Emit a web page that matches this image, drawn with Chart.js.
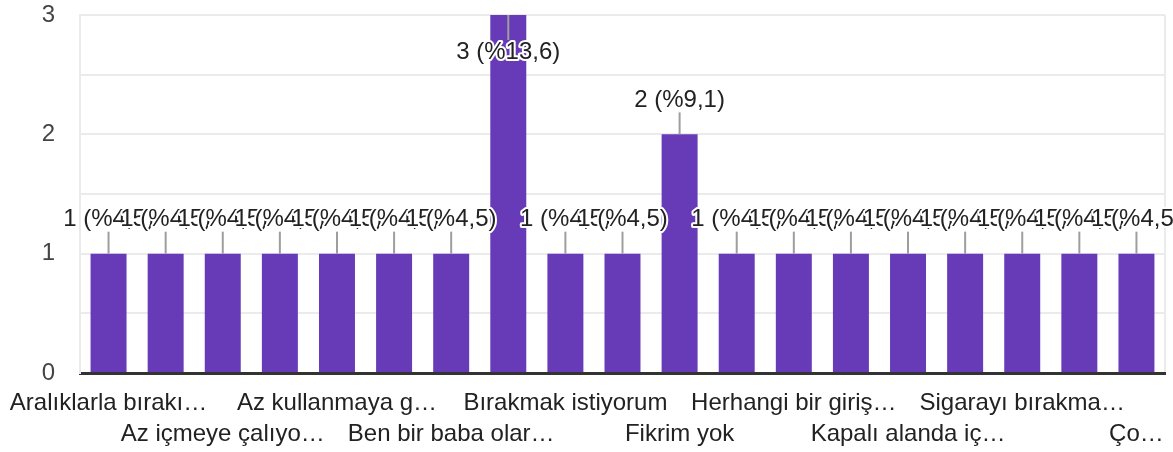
<!DOCTYPE html>
<html>
<head>
<meta charset="utf-8">
<script src="https://cdn.jsdelivr.net/npm/chart.js@4"></script>
<style>
  html, body { margin: 0; background: #fff; }
  #wrap { width: 1173px; height: 452px; }
</style>
</head>
<body>
<div id="wrap"><canvas id="answersChart"></canvas></div>
<script>
// answers, sorted the way the form lists them
const answers = [
  'Aralıklarla bırakıyorum',
  'Arkadaşlarımla birlikteyken içiyorum',
  'Az içmeye çalıyorum',
  'Az içmeye çalışıyorum',
  'Az kullanmaya gayret ediyorum',
  'Azaltmaya çalışıyorum',
  'Ben bir baba olarak örnek olmak istiyorum',
  'Bilmiyorum',
  'Bırakmak istiyorum',
  'Bırakmayı düşünüyorum',
  'Fikrim yok',
  'Hayır',
  'Herhangi bir girişimde bulunmadım',
  'Hiçbir şey yapmıyorum',
  'Kapalı alanda içmiyorum',
  'Sadece sosyal ortamlarda içiyorum',
  'Sigarayı bırakmayı düşünüyorum',
  'Yakında bırakacağım',
  'Çocuklarımın yanında içmiyorum'
];
const counts = [1, 1, 1, 1, 1, 1, 1, 3, 1, 1, 2, 1, 1, 1, 1, 1, 1, 1, 1];
const yMax = 3;
const yStep = 0.5;

const FONT_FAMILY = '"Liberation Sans", Arial, sans-serif';
const FONT = '24px ' + FONT_FAMILY;
const total = counts.reduce((a, b) => a + b, 0);

const measureCtx = document.createElement('canvas').getContext('2d');
function shorten(text, maxWidth) {
  measureCtx.font = FONT;
  if (measureCtx.measureText(text).width <= maxWidth) return text;
  let s = text;
  while (s.length > 1 && measureCtx.measureText(s + '…').width > maxWidth) s = s.slice(0, -1);
  return s.trimEnd() + '…';
}

// value labels with a leader line, drawn like the forms chart
const barLabels = {
  id: 'barLabels',
  afterDatasetsDraw(chart) {
    const { ctx, chartArea } = chart;
    const meta = chart.getDatasetMeta(0);
    ctx.save();
    ctx.font = FONT;
    ctx.textAlign = 'center';
    ctx.textBaseline = 'middle';
    meta.data.forEach((bar, i) => {
      const v = counts[i];
      const text = v + ' (%' + (v / total * 100).toFixed(1).replace('.', ',') + ')';
      let cy, yEnd;
      if (bar.y - 46 < chartArea.top) {
        cy = bar.y + 37;
        yEnd = cy - 12;
      } else {
        cy = bar.y - 34;
        yEnd = cy + 12;
      }
      ctx.strokeStyle = '#9e9e9e';
      ctx.lineWidth = 2;
      ctx.beginPath();
      ctx.moveTo(bar.x, bar.y);
      ctx.lineTo(bar.x, yEnd);
      ctx.stroke();

      ctx.lineWidth = 4;
      ctx.lineJoin = 'round';
      ctx.strokeStyle = '#fff';
      ctx.strokeText(text, bar.x, cy);
      ctx.fillStyle = '#222';
      ctx.fillText(text, bar.x, cy);
    });
    ctx.restore();
  }
};

new Chart(document.getElementById('answersChart'), {
  type: 'bar',
  data: {
    labels: answers,
    datasets: [{
      data: counts,
      backgroundColor: '#673ab7',
      barPercentage: 0.63,
      categoryPercentage: 1
    }]
  },
  options: {
    responsive: true,
    maintainAspectRatio: false,
    animation: false,
    layout: { padding: { top: 15, right: 8, left: 0, bottom: 0 } },
    plugins: { legend: { display: false }, tooltip: { enabled: false } },
    scales: {
      x: {
        grid: {
          offset: true,
          tickLength: 15,
          tickColor: 'transparent',
          lineWidth: 2,
          color: c => (c.type === 'tick' ? 'transparent' : '#ebebeb')
        },
        border: { color: '#333', width: 3 },
        ticks: {
          autoSkip: false,
          maxRotation: 0,
          minRotation: 0,
          padding: 0,
          color: '#222',
          font: { size: 24, family: FONT_FAMILY, lineHeight: 1.29 },
          callback: (value, i) => {
            if (i % 2) return '';
            const limit = i === answers.length - 1 ? 58 : 207;
            const text = shorten(answers[i], limit);
            return (i / 2) % 2 === 0 ? [text, ''] : ['', text];
          }
        },
        afterFit: s => { s.height = 79; }
      },
      y: {
        min: 0,
        max: yMax,
        grid: {
          tickLength: 25,
          tickColor: 'transparent',
          lineWidth: 2,
          color: c => (c.tick && c.tick.value === 0 ? 'transparent' : '#ebebeb')
        },
        border: { color: '#ebebeb', width: 2 },
        ticks: {
          stepSize: yStep,
          padding: 0,
          color: '#444',
          font: { size: 24, family: FONT_FAMILY },
          callback: v => (Number.isInteger(v) ? v : '')
        },
        afterFit: s => { s.width = 80; }
      }
    }
  },
  plugins: [barLabels]
});
</script>
</body>
</html>
